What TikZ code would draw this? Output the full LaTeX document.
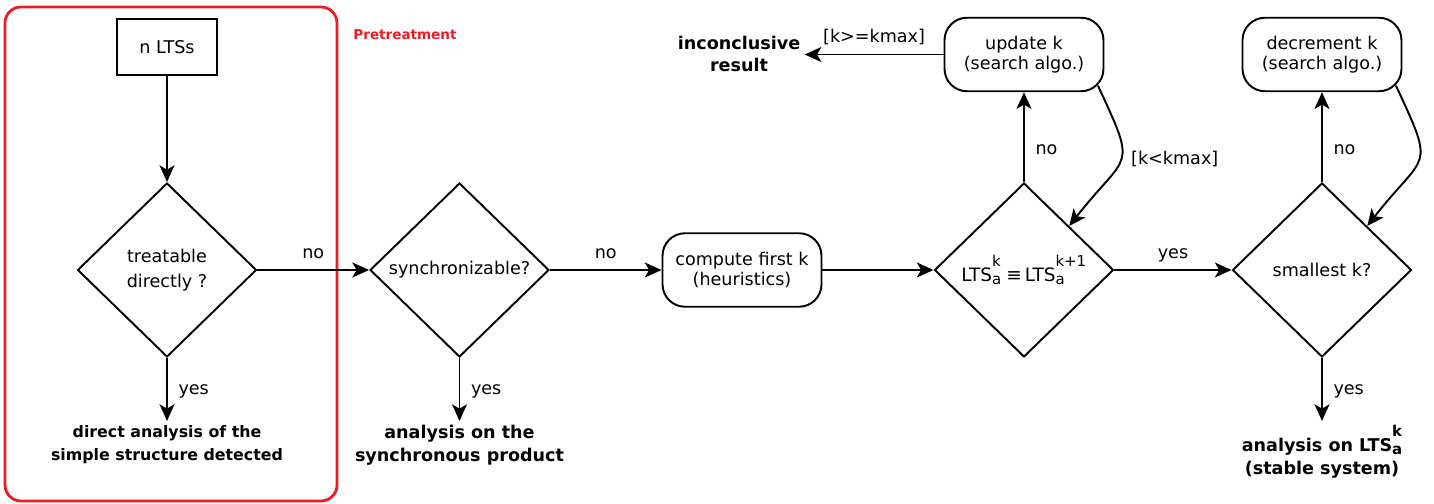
\documentclass[tikz,border=0pt]{standalone}
\usepackage{fontspec}
\setmainfont{DejaVu Sans}
\usepackage{tikz}
\usetikzlibrary{shapes.geometric, arrows.meta}

\definecolor{framered}{RGB}{237,28,36}
% LTS with stacked sub/superscript
\newcommand{\ltsof}[1]{LTS\rlap{\raisebox{1.5ex}{\fontsize{8.5}{10}\selectfont #1}}\raisebox{-0.35ex}{\fontsize{8.5}{10}\selectfont a}}

\begin{document}
\begin{tikzpicture}[
    >={Stealth[length=9.5pt, width=8.5pt, inset=2.5pt]},
    line width=1.1pt,
    every node/.style={font=\fontsize{10}{11.5}\selectfont},
    decision/.style={draw, diamond, minimum width=3.58cm, minimum height=3.48cm, inner sep=0pt},
    stepbox/.style={draw, rectangle, rounded corners=0.45cm, minimum width=3.18cm, minimum height=1.47cm, align=center},
    outcome/.style={align=center, inner sep=2pt},
    lbl/.style={inner sep=3pt, text depth=0pt},
  ]
      \useasboundingbox (0,0) rectangle (28.68,-10.08);

      % --- pretreatment frame (drawn first, behind the arrows) ---
      \draw[framered, line width=1.6pt, rounded corners=0.32cm] (0.1,-0.14) rectangle (6.74,-10.02);
      \node[framered, font=\fontsize{7.7}{9}\selectfont\bfseries] (pre) at (8.1,-0.7) {Pretreatment};

      % --- input box and the two first decisions ---
      \node[draw, minimum width=2cm, minimum height=1.12cm] (ltss) at (3.34,-0.94) {n LTSs};
      \node[decision, label={[align=center, font=\fontsize{10}{14}\selectfont]center:treatable\\directly ?}] (treat) at (3.34,-5.4) {};
      \node[decision, label={center:synchronizable?}] (sync) at (9.19,-5.4) {};

      % --- k search ---
      \node[stepbox] (heur) at (14.84,-5.4) {compute first k\\(heuristics)};
      \node[decision, label={[font=\fontsize{10.5}{12}\selectfont]center:\ltsof{k}\;≡\,\ltsof{k+1}\hphantom{\fontsize{8.5}{10}\selectfont +1}}] (equiv) at (20.48,-5.4) {};
      \node[stepbox] (update) at (20.48,-1.09) {update k\\(search algo.)};
      \node[decision, label={center:smallest k?}] (small) at (26.44,-5.4) {};
      \node[stepbox] (decr) at (26.44,-1.09) {decrement k\\(search algo.)};

      % --- outcomes (bold, no frame) ---
      \node[outcome, anchor=north, font=\fontsize{9}{13}\selectfont\bfseries] (direct) at (3.34,-8.42) {direct analysis of the\\simple structure detected};
      \node[outcome, anchor=north, font=\fontsize{10}{13}\selectfont\bfseries] (synprod) at (9.19,-8.42) {analysis on the\\synchronous product};
      \node[outcome, anchor=north, font=\fontsize{10}{13}\selectfont\bfseries] (stable) at (26.44,-8.42) {analysis on \ltsof{k}\\(stable system)};
      \node[outcome, font=\fontsize{10}{12.5}\selectfont\bfseries] (incon) at (14.78,-1.07) {inconclusive\\result};

      % --- main flow ---
      \draw[->] (ltss.south) -- (treat.north);
      \draw[->] (treat.east) -- node[lbl, above=3pt] {no} (sync.west);
      \draw[->] (sync.east) -- node[lbl, above=3pt] {no} (heur.west);
      \draw[->] (heur.east) -- (equiv.west);
      \draw[->] (equiv.east) -- node[lbl, above=3pt] {yes} (small.west);

      % --- yes branches down to the outcomes ---
      \draw[->] (treat.south) -- node[lbl, right=3pt] {yes} (direct.north);
      \draw[->] (sync.south) -- node[lbl, right=3pt] {yes} (synprod.north);
      \draw[->] (small.south) -- node[lbl, right=3pt] {yes} (stable.north);

      % --- no branches up to the search boxes, and back ---
      \draw[->] (equiv.north) -- node[lbl, right=3pt, pos=0.36] {no} (update.south);
      \draw[->] (small.north) -- node[lbl, right=3pt, pos=0.36] {no} (decr.south);
      \draw[->] (update.west) -- node[lbl, above=3pt] {[k>=kmax]} (update.west -| incon.east);
      \draw[->] ([xshift=-0.13cm, yshift=0.13cm]update.south east) to[out=-65, in=52, looseness=1.7]
            node[lbl, right=2pt, pos=0.47] {[k<kmax]} (equiv.north east);
      \draw[->] ([xshift=-0.13cm, yshift=0.13cm]decr.south east) to[out=-65, in=52, looseness=1.7] (small.north east);
\end{tikzpicture}
\end{document}
